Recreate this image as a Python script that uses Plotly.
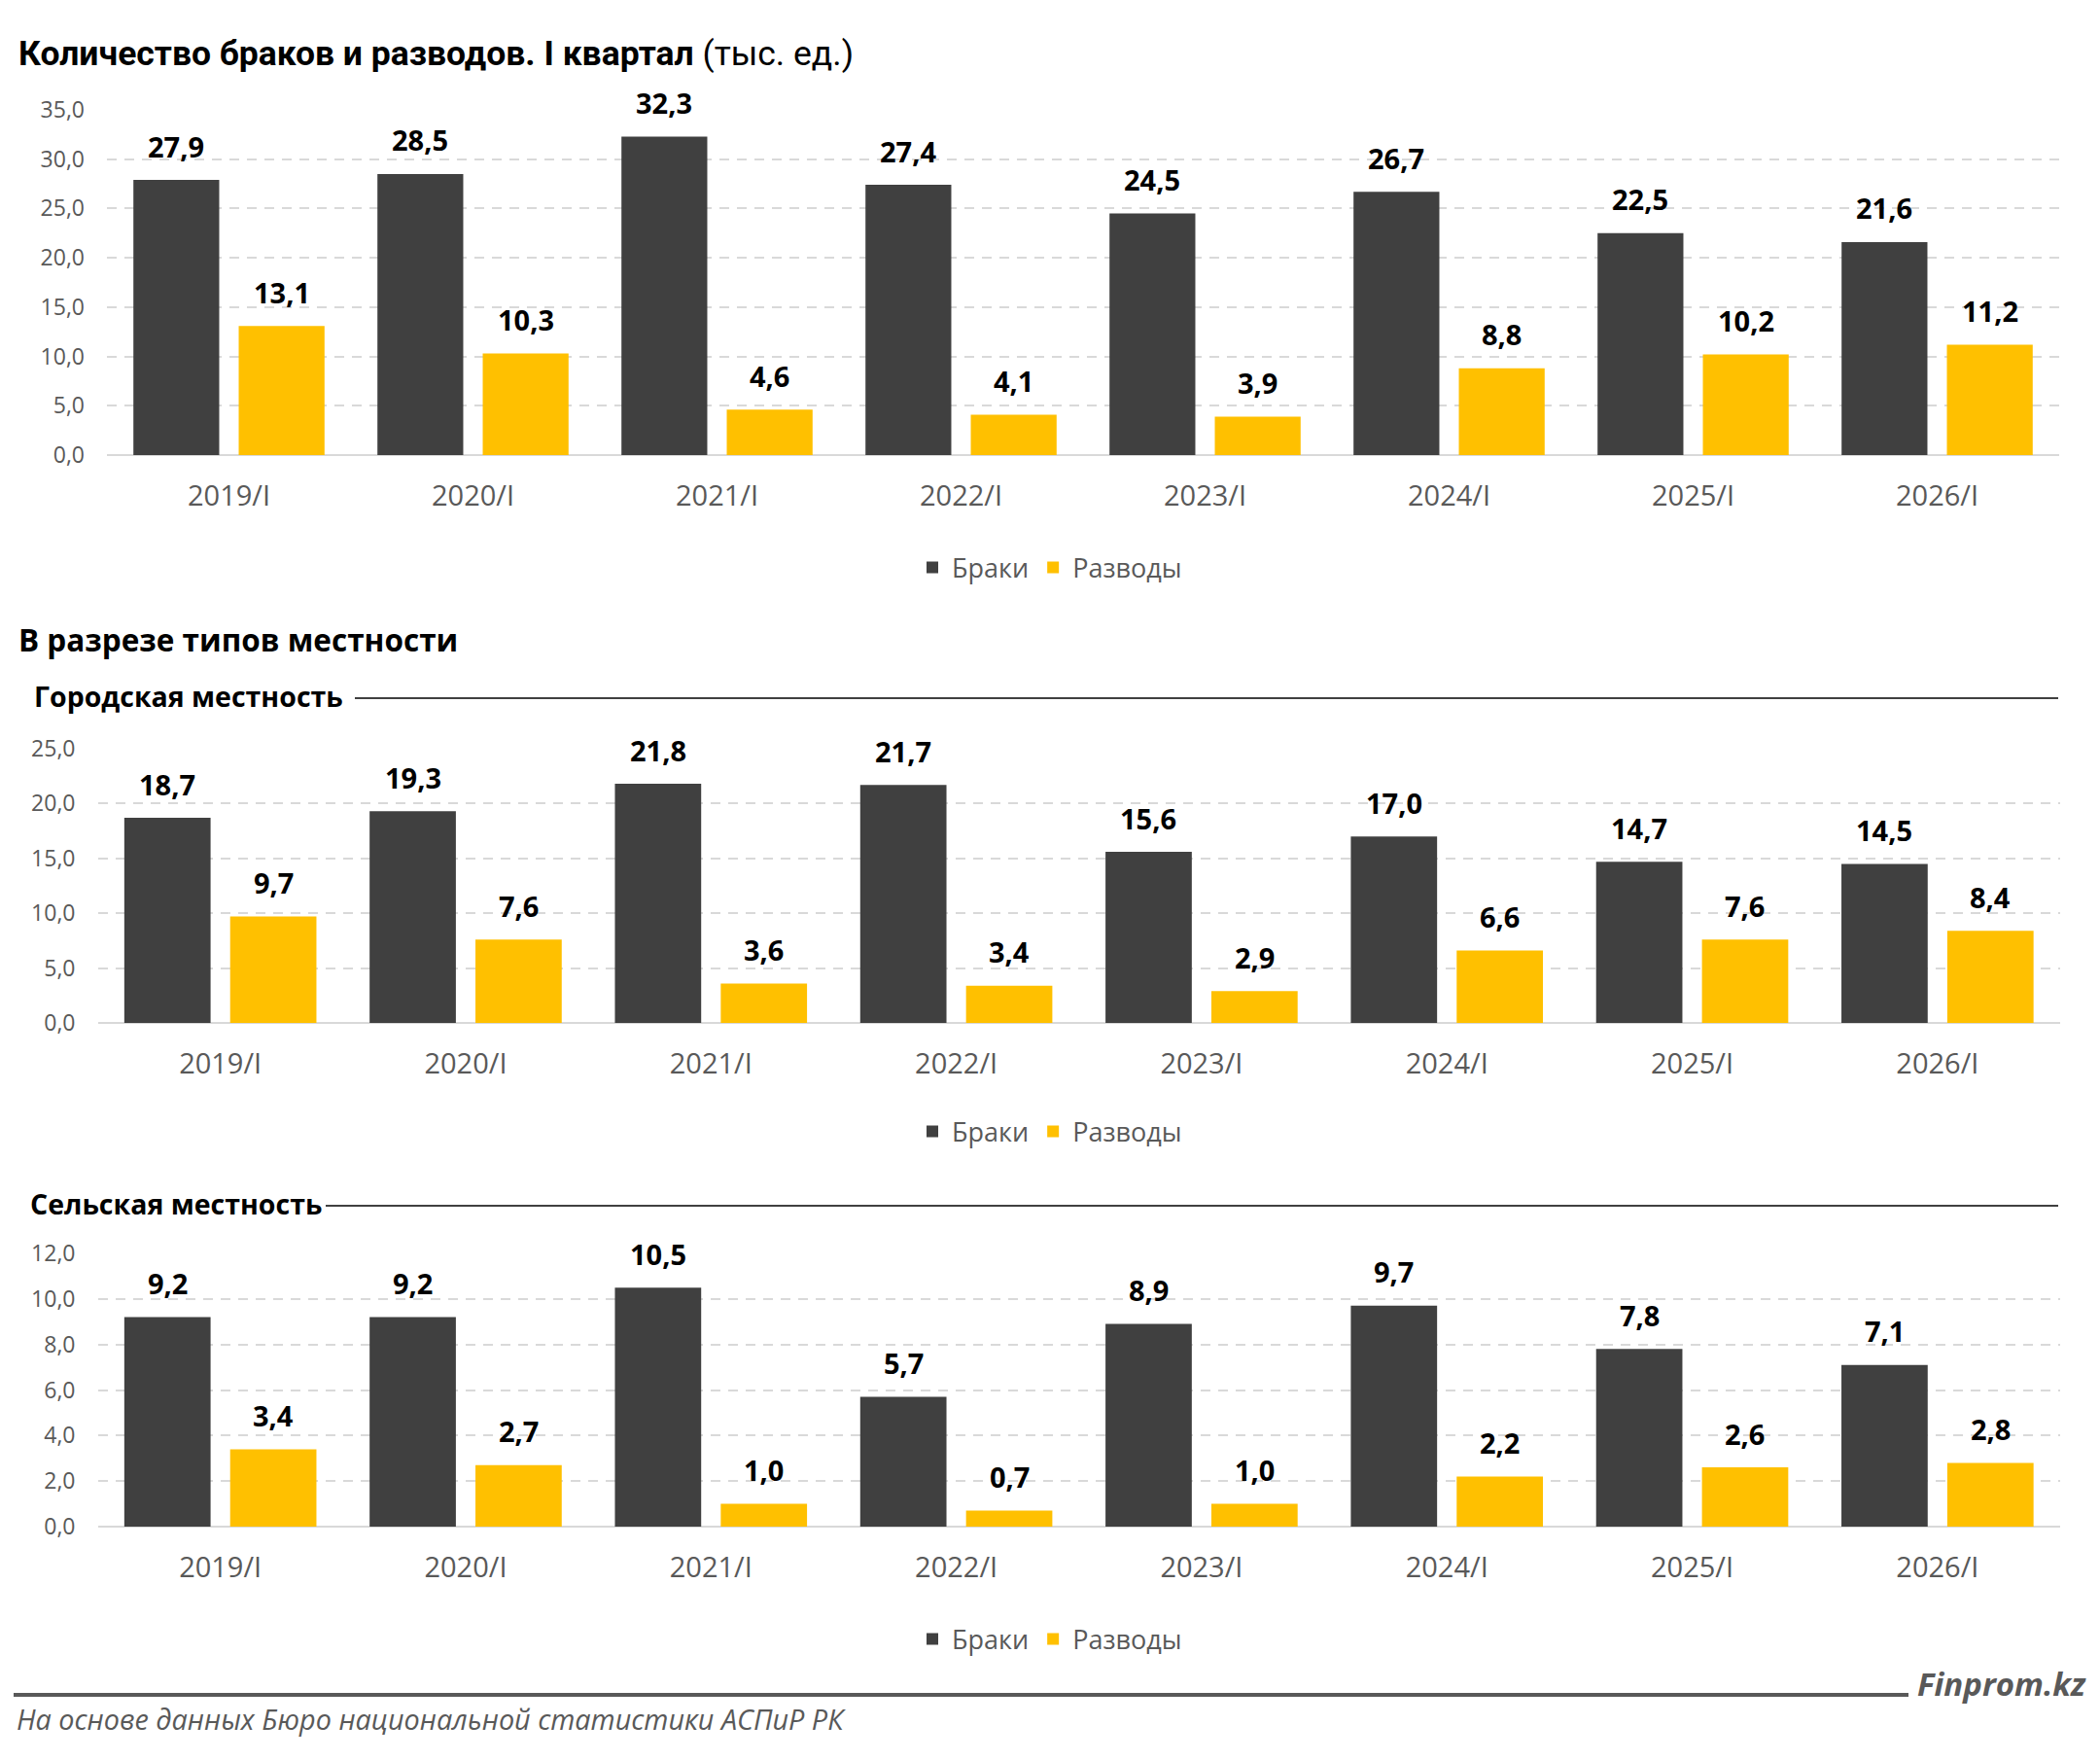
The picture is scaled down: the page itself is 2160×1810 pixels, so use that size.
import plotly.graph_objects as go

categories = ["2019/I", "2020/I", "2021/I", "2022/I", "2023/I", "2024/I", "2025/I", "2026/I"]

total_marriages = [27.9, 28.5, 32.3, 27.4, 24.5, 26.7, 22.5, 21.6]
total_divorces = [13.1, 10.3, 4.6, 4.1, 3.9, 8.8, 10.2, 11.2]

urban_marriages = [18.7, 19.3, 21.8, 21.7, 15.6, 17.0, 14.7, 14.5]
urban_divorces = [9.7, 7.6, 3.6, 3.4, 2.9, 6.6, 7.6, 8.4]

rural_marriages = [9.2, 9.2, 10.5, 5.7, 8.9, 9.7, 7.8, 7.1]
rural_divorces = [3.4, 2.7, 1.0, 0.7, 1.0, 2.2, 2.6, 2.8]

series_names = ["Браки", "Разводы"]

TITLE = "Количество браков и разводов. I квартал"
TITLE_UNIT = " (тыс. ед.)"
SECTION = "В разрезе типов местности"
URBAN = "Городская местность"
RURAL = "Сельская местность"
SOURCE = "На основе данных Бюро национальной статистики АСПиР РК"
BRAND = "Finprom.kz"

W, H = 2160, 1810
DARK = "#404040"
YELLOW = "#FFC000"
GRID = "#d9d9d9"
TICK = "#595959"
FONT = "Open Sans, Roboto, DejaVu Sans, sans-serif"
TITLE_FONT = "Roboto, Open Sans, sans-serif"

BARGAP = 0.137
BARGROUPGAP = 0.185


def py(p):
    return 1 - p / H


def px(p):
    return p / W


panels = [
    # (marriages, divorces, x domain px, y top px, y bottom px, ymax, dtick, legend y px)
    (total_marriages, total_divorces, (110, 2118), 113, 468, 35, 5, 584),
    (urban_marriages, urban_divorces, (100.5, 2119), 770, 1052, 25, 5, 1164),
    (rural_marriages, rural_divorces, (100.5, 2119), 1289, 1570, 12, 2, 1686),
]

fig = go.Figure()
annotations = []
layout_axes = {}

for i, (m, d, xd, ytop, ybot, ymax, dt, ly) in enumerate(panels):
    n = "" if i == 0 else str(i + 1)
    xa, ya = "x" + n, "y" + n
    leg = "legend" + n
    for vals, name, col in ((m, series_names[0], DARK), (d, series_names[1], YELLOW)):
        fig.add_trace(go.Bar(
            x=categories, y=vals, name=name, marker=dict(color=col, line=dict(width=0)),
            xaxis=xa, yaxis=ya, legend=leg, showlegend=True, hoverinfo="x+y",
        ))
    cat_px = (xd[1] - xd[0]) / len(categories)
    off = cat_px * (1 - BARGAP) / 4
    for vals, sh in ((m, -off), (d, off)):
        for c, v in zip(categories, vals):
            annotations.append(dict(
                x=c, y=v, xref=xa, yref=ya, text=f"{v:.1f}".replace(".", ","),
                showarrow=False, xshift=sh, yshift=35, yanchor="middle",
                font=dict(family=FONT, size=29, color="#000000", weight="bold"),
            ))
    layout_axes["xaxis" + n] = dict(
        domain=[px(xd[0]), px(xd[1])], anchor=ya, type="category",
        showgrid=False, showline=False, zeroline=False, ticks="",
        tickfont=dict(family=FONT, size=29, color=TICK), ticklabelstandoff=22,
        fixedrange=True,
    )
    layout_axes["yaxis" + n] = dict(
        domain=[py(ybot), py(ytop)], anchor=xa, range=[0, ymax], dtick=dt,
        tickformat=".1f", showgrid=True, gridcolor=GRID, gridwidth=2,
        griddash="10px,8px", zeroline=True, zerolinecolor=GRID, zerolinewidth=2,
        showline=False, ticks="", tickfont=dict(family=FONT, size=23, color=TICK),
        ticklabelstandoff=22, fixedrange=True,
    )
    layout_axes[leg] = dict(
        orientation="h", x=0.5, xanchor="center", y=py(ly), yanchor="middle",
        font=dict(family=FONT, size=27, color=TICK), bgcolor="rgba(0,0,0,0)",
        itemwidth=30, traceorder="normal",
    )

# Titles & texts
annotations += [
    dict(text=f"<b>{TITLE}</b>{TITLE_UNIT}", x=px(17), y=py(55), xref="paper", yref="paper",
         xanchor="left", yanchor="middle", showarrow=False,
         font=dict(family=TITLE_FONT, size=35.5, color="#000000")),
    dict(text=f"<b>{SECTION}</b>", x=px(17), y=py(657), xref="paper", yref="paper",
         xanchor="left", yanchor="middle", showarrow=False,
         font=dict(family=FONT, size=31.5, color="#000000")),
    dict(text=f"<b>{URBAN}</b>", x=px(33), y=py(716), xref="paper", yref="paper",
         xanchor="left", yanchor="middle", showarrow=False,
         font=dict(family=FONT, size=28.5, color="#000000")),
    dict(text=f"<b>{RURAL}</b>", x=px(29), y=py(1238), xref="paper", yref="paper",
         xanchor="left", yanchor="middle", showarrow=False,
         font=dict(family=FONT, size=28.5, color="#000000")),
    dict(text=f"<b><i>{BRAND}</i></b>", x=px(2148), y=py(1731), xref="paper", yref="paper",
         xanchor="right", yanchor="middle", showarrow=False,
         font=dict(family=FONT, size=33, color=TICK)),
    dict(text=f"<i>{SOURCE}</i>", x=px(15), y=py(1767), xref="paper", yref="paper",
         xanchor="left", yanchor="middle", showarrow=False,
         font=dict(family=FONT, size=28.8, color=TICK)),
]

shapes = [
    dict(type="line", xref="paper", yref="paper", x0=px(365), x1=px(2117), y0=py(718), y1=py(718),
         line=dict(color=DARK, width=2)),
    dict(type="line", xref="paper", yref="paper", x0=px(335), x1=px(2117), y0=py(1240), y1=py(1240),
         line=dict(color=DARK, width=2)),
    dict(type="line", xref="paper", yref="paper", x0=px(14), x1=px(1963), y0=py(1743), y1=py(1743),
         line=dict(color=TICK, width=4)),
]

fig.update_layout(
    width=W, height=H, margin=dict(l=0, r=0, t=0, b=0, autoexpand=False),
    paper_bgcolor="white", plot_bgcolor="white",
    barmode="group", bargap=BARGAP, bargroupgap=BARGROUPGAP,
    separators=", ", annotations=annotations, shapes=shapes,
    font=dict(family=FONT), **layout_axes,
)

fig.write_html("out.html")
